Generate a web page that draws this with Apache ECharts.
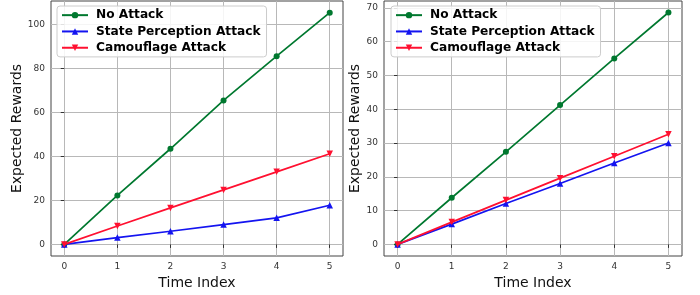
<!DOCTYPE html>
<html>
<head>
<meta charset="utf-8">
<script src="https://cdn.jsdelivr.net/npm/echarts@6/dist/echarts.min.js"></script>
<style>
html, body { margin: 0; padding: 0; background: #fff; }
#main { width: 700px; height: 295px; }
</style>
</head>
<body>
<div id="main"></div>
<script>
var timeIndex = [0, 1, 2, 3, 4, 5];
var seriesNames = ['No Attack', 'State Perception Attack', 'Camouflage Attack'];

// left panel
var leftNoAttack = [0, 22.3, 43.5, 65.5, 85.6, 105.4];
var leftStatePerception = [0, 3.1, 6.0, 9.0, 12.1, 17.8];
var leftCamouflage = [0, 8.4, 16.6, 24.8, 33.0, 41.2];

// right panel
var rightNoAttack = [0, 13.8, 27.4, 41.2, 55.0, 68.6];
var rightStatePerception = [0, 6.0, 12.1, 18.0, 24.1, 30.0];
var rightCamouflage = [0, 6.6, 13.1, 19.6, 26.1, 32.6];

var leftTicks = [0, 20, 40, 60, 80, 100];
var rightTicks = [0, 10, 20, 30, 40, 50, 60, 70];

var colors = ['#00782f', '#1414f0', '#ff1030'];
var symbols = ['circle', 'triangle', 'triangle'];
var rotations = [0, 0, 180];
var sizes = [6, 6.5, 6.5];

var chart = echarts.init(document.getElementById('main'));

function pairs(ys) {
    return ys.map(function (y, i) { return [timeIndex[i], y]; });
}

function makeX(idx) {
    return {
        type: 'value', gridIndex: idx, min: -0.25, max: 5.25,
        name: 'Time Index', nameLocation: 'middle', nameGap: 20,
        nameTextStyle: { fontSize: 14, color: '#111', fontFamily: 'DejaVu Sans' },
        axisLine: { show: false },
        axisTick: { show: true, length: 3.5, inside: false, customValues: timeIndex, lineStyle: { color: '#333' } },
        axisLabel: { customValues: timeIndex, fontSize: 9, color: '#333', margin: 6, fontFamily: 'DejaVu Sans' },
        splitLine: { show: true, lineStyle: { color: '#b8b8b8', width: 1 } }
    };
}

function makeY(idx, min, max, ticks, gap) {
    return {
        type: 'value', gridIndex: idx, min: min, max: max,
        name: 'Expected Rewards', nameLocation: 'middle', nameGap: gap,
        nameTextStyle: { fontSize: 14, color: '#111', fontFamily: 'DejaVu Sans' },
        axisLine: { show: false },
        axisTick: { show: true, length: 3.5, inside: false, customValues: ticks, lineStyle: { color: '#333' } },
        axisLabel: { customValues: ticks, fontSize: 9, color: '#333', margin: 6, fontFamily: 'DejaVu Sans' },
        splitLine: { show: true, lineStyle: { color: '#b8b8b8', width: 1 } }
    };
}

function makeLegend(left) {
    return {
        data: seriesNames,
        orient: 'vertical', left: left, top: 6,
        itemWidth: 26, itemHeight: 8, itemGap: 2,
        padding: [2, 6, 2, 4],
        backgroundColor: 'rgba(255,255,255,0.85)',
        borderColor: '#cccccc', borderWidth: 1, borderRadius: 3,
        textStyle: { fontSize: 12.2, lineHeight: 14.3, fontWeight: 'bold', color: '#000', fontFamily: 'DejaVu Sans', padding: [0, 0, 0, 3] }
    };
}

function makeSeries(panel, data) {
    return data.map(function (ys, k) {
        return {
            name: seriesNames[k], type: 'line',
            xAxisIndex: panel, yAxisIndex: panel,
            data: pairs(ys),
            symbol: symbols[k], symbolSize: sizes[k], symbolRotate: rotations[k],
            showAllSymbol: true,
            lineStyle: { color: colors[k], width: 1.7 },
            itemStyle: { color: colors[k] },
            z: 3 + (k === 2 ? 1 : 0)
        };
    });
}

chart.setOption({
    animation: false,
    color: colors,
    grid: [
        { left: 51, right: 357, top: 1, bottom: 34, show: true, borderColor: '#444', borderWidth: 1, backgroundColor: 'transparent' },
        { left: 384, right: 18, top: 1, bottom: 35, show: true, borderColor: '#444', borderWidth: 1, backgroundColor: 'transparent' }
    ],
    legend: [makeLegend(57), makeLegend(391)],
    xAxis: [makeX(0), makeX(1)],
    yAxis: [makeY(0, -5.27, 110.7, leftTicks, 27), makeY(1, -3.43, 72.0, rightTicks, 21)],
    series: makeSeries(0, [leftNoAttack, leftStatePerception, leftCamouflage])
        .concat(makeSeries(1, [rightNoAttack, rightStatePerception, rightCamouflage]))
});
</script>
</body>
</html>
